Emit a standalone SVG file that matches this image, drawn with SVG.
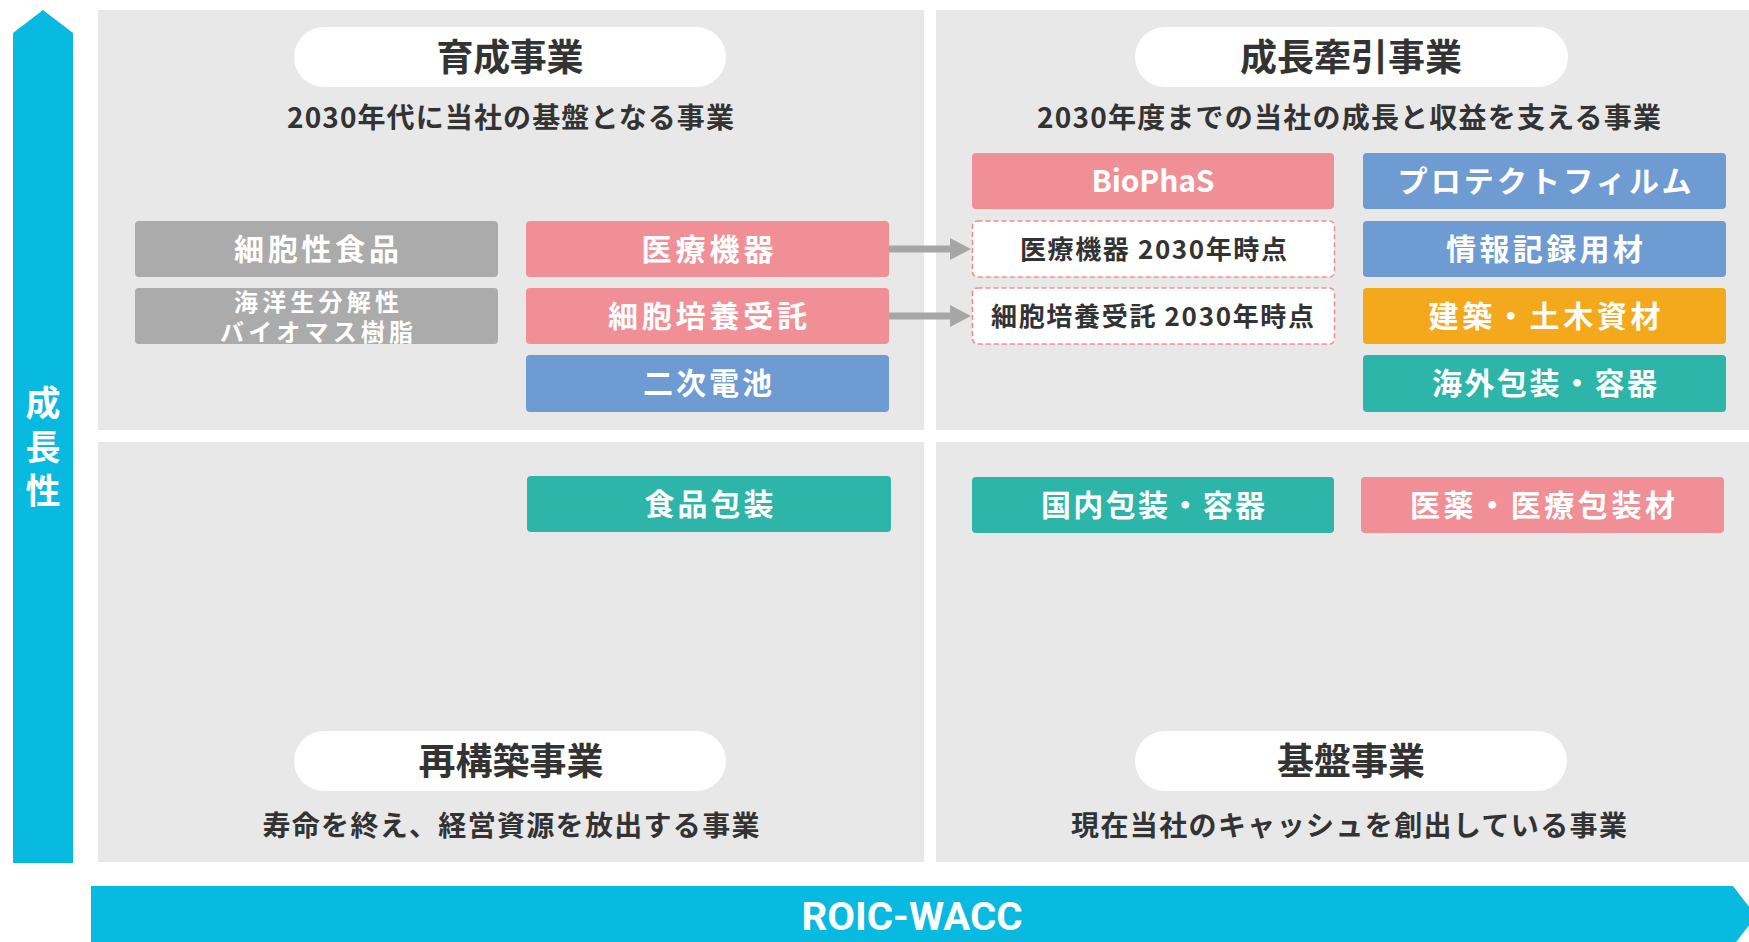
<svg xmlns="http://www.w3.org/2000/svg" width="1749" height="942" viewBox="0 0 1749 942">
<defs>
<style>
.quad{fill:#e8e8e8}
.axis{fill:#08b9e0}
.pill{fill:#ffffff}
.box{stroke:none}
.pink{fill:#f09096}
.blue{fill:#6e9bd2}
.orange{fill:#f4a91d}
.teal{fill:#2db5a9}
.gray{fill:#ababab}
.dash{fill:#ffffff;stroke:#ef8f95;stroke-width:1.6;stroke-dasharray:5 3}
text{font-family:"Noto Sans CJK JP","Noto Sans",sans-serif;text-anchor:middle;dominant-baseline:central}
.title{font-size:37px;font-weight:700;fill:#333333}
.sub{font-size:28px;font-weight:700;fill:#333333}
.lbl{font-size:30px;font-weight:600;fill:#ffffff}
.lbl2{font-size:24px;font-weight:600;fill:#ffffff}
.dlbl{font-size:26px;font-weight:700;fill:#333333}
.axlbl{font-size:35px;font-weight:700;fill:#ffffff}
.roic{font-family:Roboto,"Liberation Sans",sans-serif;font-size:39px;font-weight:700;fill:#ffffff}
.conn{stroke:#a6a6a6;stroke-width:7;fill:none}
</style>
<marker id="ah" markerUnits="userSpaceOnUse" markerWidth="22" markerHeight="22" refX="0" refY="11" orient="auto" viewBox="0 0 22 22">
<path d="M0,0 L21,11 L0,22 z" fill="#a6a6a6"/>
</marker>
</defs>
<rect width="1749" height="942" fill="#ffffff"/>

<g id="quadrants">
<rect class="quad" x="98" y="10" width="826" height="420"/>
<rect class="quad" x="936" y="10" width="813" height="420"/>
<rect class="quad" x="98" y="442" width="826" height="420"/>
<rect class="quad" x="936" y="442" width="813" height="420"/>
</g>

<g id="axis-growth">
<polygon class="axis" points="13,33 43,10 73,33 73,863 13,863"/>
<text class="axlbl" x="43" y="400"><tspan x="43" y="400">成</tspan><tspan x="43" y="444">長</tspan><tspan x="43" y="488">性</tspan></text>
</g>

<g id="axis-roic">
<polygon class="axis" points="91,886 1733,886 1756,916 1733,946 91,946"/>
<text class="roic" x="912" y="917" textLength="221" lengthAdjust="spacingAndGlyphs">ROIC-WACC</text>
</g>

<g id="title-ikusei">
<rect class="pill" x="294" y="27" width="432" height="60" rx="30"/>
<text class="title" x="510" y="55" textLength="147">育成事業</text>
<text class="sub" x="510.5" y="116" textLength="447">2030年代に当社の基盤となる事業</text>
</g>

<g id="title-seicho">
<rect class="pill" x="1135" y="27" width="433" height="60" rx="30"/>
<text class="title" x="1351" y="55" textLength="222">成長牽引事業</text>
<text class="sub" x="1349" y="116" textLength="624">2030年度までの当社の成長と収益を支える事業</text>
</g>

<g id="title-saikochiku">
<rect class="pill" x="294" y="731" width="432" height="60" rx="30"/>
<text class="title" x="511" y="759" textLength="185">再構築事業</text>
<text class="sub" x="511" y="824" textLength="497">寿命を終え、経営資源を放出する事業</text>
</g>

<g id="title-kiban">
<rect class="pill" x="1135" y="731" width="432" height="60" rx="30"/>
<text class="title" x="1351" y="759" textLength="148">基盤事業</text>
<text class="sub" x="1349" y="824" textLength="556">現在当社のキャッシュを創出している事業</text>
</g>

<g id="node-saibouseishokuhin">
<rect class="box gray" x="135" y="221" width="363" height="56" rx="4"/>
<text class="lbl" x="316.5" y="246.5" textLength="165">細胞性食品</text>
</g>
<g id="node-kaiyou">
<rect class="box gray" x="135" y="288" width="363" height="56" rx="4"/>
<text class="lbl2" x="316.5" y="300"><tspan x="316.5" y="300" textLength="165">海洋生分解性</tspan><tspan x="316.5" y="330" textLength="193">バイオマス樹脂</tspan></text>
</g>
<g id="node-iryoukiki">
<rect class="box pink" x="526" y="221" width="363" height="56" rx="4"/>
<text class="lbl" x="707.5" y="246.5" textLength="132">医療機器</text>
</g>
<g id="node-saibouitaku">
<rect class="box pink" x="526" y="288" width="363" height="56" rx="4"/>
<text class="lbl" x="707.5" y="313.5" textLength="199">細胞培養受託</text>
</g>
<g id="node-niji">
<rect class="box blue" x="526" y="355" width="363" height="57" rx="4"/>
<text class="lbl" x="707.5" y="381" textLength="129">二次電池</text>
</g>

<g id="node-biophas">
<rect class="box pink" x="972" y="153" width="362" height="56" rx="4"/>
<text class="lbl" x="1153" y="179" textLength="123">BioPhaS</text>
</g>
<g id="node-iryoukiki2030">
<rect class="dash" x="972.5" y="221" width="362" height="56" rx="5"/>
<text class="dlbl" x="1153.5" y="247" textLength="267">医療機器 2030年時点</text>
</g>
<g id="node-saibou2030">
<rect class="dash" x="972.5" y="288" width="362" height="56" rx="5"/>
<text class="dlbl" x="1152.5" y="314" textLength="323">細胞培養受託 2030年時点</text>
</g>
<g id="node-protect">
<rect class="box blue" x="1363" y="153" width="363" height="56" rx="4"/>
<text class="lbl" x="1544.5" y="178.5" textLength="294">プロテクトフィルム</text>
</g>
<g id="node-jouhou">
<rect class="box blue" x="1363" y="221" width="363" height="56" rx="4"/>
<text class="lbl" x="1544.5" y="246.5" textLength="197">情報記録用材</text>
</g>
<g id="node-kenchiku">
<rect class="box orange" x="1363" y="288" width="363" height="56" rx="4"/>
<text class="lbl" x="1544.5" y="313.5" textLength="232">建築・土木資材</text>
</g>
<g id="node-kaigai">
<rect class="box teal" x="1363" y="355" width="363" height="57" rx="4"/>
<text class="lbl" x="1544.5" y="381" textLength="225">海外包装・容器</text>
</g>

<g id="node-shokuhin">
<rect class="box teal" x="527" y="476" width="364" height="56" rx="4"/>
<text class="lbl" x="709" y="501.5" textLength="129">食品包装</text>
</g>
<g id="node-kokunai">
<rect class="box teal" x="972" y="477" width="362" height="56" rx="4"/>
<text class="lbl" x="1153" y="502.5" textLength="224">国内包装・容器</text>
</g>
<g id="node-iyaku">
<rect class="box pink" x="1361" y="477" width="363" height="56" rx="4"/>
<text class="lbl" x="1542.5" y="502.5" textLength="265">医薬・医療包装材</text>
</g>

<g id="connectors">
<line class="conn" x1="889" y1="249" x2="950" y2="249" marker-end="url(#ah)"/>
<line class="conn" x1="889" y1="316" x2="950" y2="316" marker-end="url(#ah)"/>
</g>
</svg>
